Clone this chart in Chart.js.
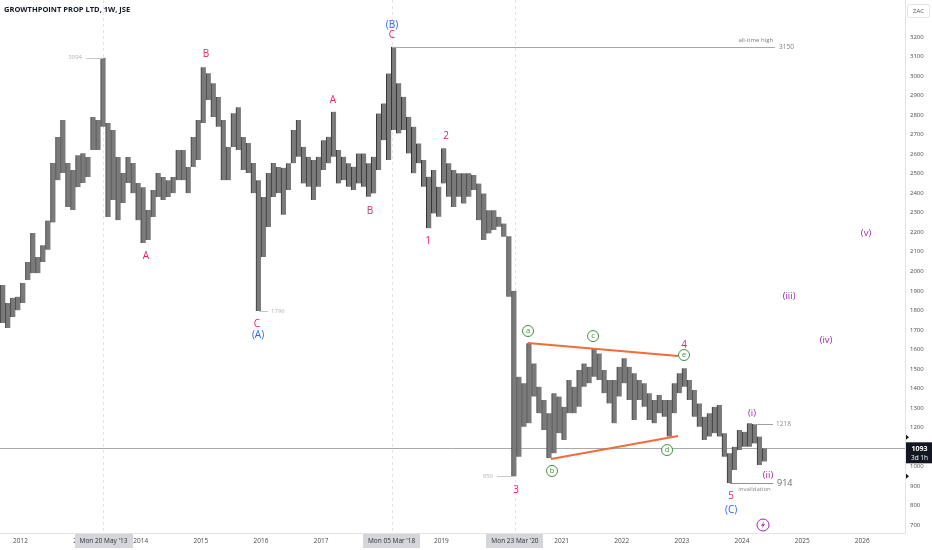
<!DOCTYPE html>
<html>
<head>
<meta charset="utf-8">
<script src="https://cdn.jsdelivr.net/npm/chart.js@4.4.1/dist/chart.umd.min.js"></script>
<style>
  html, body { margin: 0; padding: 0; background: #fff; }
  #wrap { width: 932px; height: 550px; position: relative; }
</style>
</head>
<body>
<div id="wrap"><canvas id="chart"></canvas></div>
<script>
// monthly ranges
const months = [
  '2011-09','2011-10','2011-11','2011-12',
  '2012-01','2012-02','2012-03','2012-04','2012-05','2012-06','2012-07','2012-08','2012-09','2012-10','2012-11','2012-12',
  '2013-01','2013-02','2013-03','2013-04','2013-05','2013-06','2013-07','2013-08','2013-09','2013-10','2013-11','2013-12',
  '2014-01','2014-02','2014-03','2014-04','2014-05','2014-06','2014-07','2014-08','2014-09','2014-10','2014-11','2014-12',
  '2015-01','2015-02','2015-03','2015-04','2015-05','2015-06','2015-07','2015-08','2015-09','2015-10','2015-11','2015-12',
  '2016-01','2016-02','2016-03','2016-04','2016-05','2016-06','2016-07','2016-08','2016-09','2016-10','2016-11','2016-12',
  '2017-01','2017-02','2017-03','2017-04','2017-05','2017-06','2017-07','2017-08','2017-09','2017-10','2017-11','2017-12',
  '2018-01','2018-02','2018-03','2018-04','2018-05','2018-06','2018-07','2018-08','2018-09','2018-10','2018-11','2018-12',
  '2019-01','2019-02','2019-03','2019-04','2019-05','2019-06','2019-07','2019-08','2019-09','2019-10','2019-11','2019-12',
  '2020-01','2020-02','2020-03','2020-04','2020-05','2020-06','2020-07','2020-08','2020-09','2020-10','2020-11','2020-12',
  '2021-01','2021-02','2021-03','2021-04','2021-05','2021-06','2021-07','2021-08','2021-09','2021-10','2021-11','2021-12',
  '2022-01','2022-02','2022-03','2022-04','2022-05','2022-06','2022-07','2022-08','2022-09','2022-10','2022-11','2022-12',
  '2023-01','2023-02','2023-03','2023-04','2023-05','2023-06','2023-07','2023-08','2023-09','2023-10','2023-11','2023-12',
  '2024-01','2024-02','2024-03','2024-04','2024-05'
];

const lows = [
  1735, 1710, 1766, 1800,
  1838, 1955, 1990, 1990, 2048, 2110, 2250, 2467, 2503, 2330, 2314, 2431,
  2452, 2483, 2621, 2621, 2740, 2278, 2365, 2262, 2350, 2452, 2400, 2262,
  2145, 2160, 2278, 2380, 2365, 2380, 2400, 2467, 2467, 2400, 2534, 2570,
  2760, 2877, 2790, 2740, 2467, 2467, 2637, 2621, 2519, 2503, 2400, 1796,
  2073, 2227, 2380, 2400, 2290, 2416, 2553, 2587, 2450, 2433, 2365, 2433,
  2519, 2553, 2587, 2450, 2467, 2433, 2416, 2450, 2433, 2382, 2399, 2519,
  2672, 2570, 2724, 2706, 2724, 2604, 2502, 2553, 2433, 2220, 2296, 2279,
  2450, 2382, 2330, 2382, 2347, 2382, 2416, 2262, 2160, 2194, 2211, 2228,
  2177, 1870,  950, 1050, 1204, 1221, 1358, 1272, 1187, 1042, 1067, 1170,
  1135, 1272, 1272, 1306, 1409, 1426, 1460, 1443, 1375, 1323, 1221, 1358,
  1426, 1340, 1238, 1340, 1306, 1238, 1221, 1272, 1255, 1153, 1272, 1375,
  1409, 1340, 1255, 1204, 1136, 1153, 1170, 1153, 1050,  914,  982, 1084,
  1101, 1101, 1118, 1008, 1025
];

const highs = [
  1930, 1838, 1864, 1870,
  1940, 2048, 2196, 2073, 2134, 2260, 2555, 2688, 2775, 2555, 2519, 2595,
  2605, 2585, 2790, 2775, 3094, 2760, 2724, 2585, 2503, 2585, 2555, 2452,
  2431, 2314, 2416, 2503, 2483, 2467, 2483, 2621, 2621, 2534, 2688, 2775,
  3046, 3015, 2964, 2893, 2775, 2637, 2810, 2841, 2688, 2657, 2555, 2467,
  2380, 2503, 2555, 2534, 2530, 2553, 2724, 2775, 2638, 2587, 2570, 2587,
  2672, 2689, 2818, 2621, 2587, 2553, 2536, 2604, 2604, 2553, 2587, 2809,
  2860, 3014, 3150, 2963, 2894, 2792, 2741, 2655, 2570, 2485, 2519, 2433,
  2630, 2553, 2519, 2502, 2502, 2502, 2493, 2450, 2399, 2313, 2313, 2279,
  2245, 2180, 1900, 1460, 1426, 1631, 1528, 1409, 1340, 1272, 1375, 1358,
  1306, 1443, 1409, 1494, 1528, 1511, 1605, 1579, 1494, 1443, 1443, 1511,
  1554, 1511, 1477, 1443, 1426, 1375, 1340, 1366, 1340, 1340, 1426, 1477,
  1503, 1443, 1392, 1323, 1255, 1272, 1306, 1315, 1170, 1067, 1101, 1187,
  1178, 1221, 1218, 1153, 1093
];

const yearTicks = [2012, 2013, 2014, 2015, 2016, 2017, 2018, 2019, 2020, 2021, 2022, 2023, 2024, 2025, 2026];
const priceTicks = [700, 800, 900, 1000, 1100, 1200, 1300, 1400, 1500, 1600, 1700, 1800, 1900, 2000,
  2100, 2200, 2300, 2400, 2500, 2600, 2700, 2800, 2900, 3000, 3100, 3200];

const lastPrice = 1093;
const alertLevels = [1150, 950];

// highlighted dates on the time axis
const markerDates = ['2013-05-20', '2018-03-05', '2020-03-23'];
const markerLabels = ["Mon 20 May '13", "Mon 05 Mar '18", "Mon 23 Mar '20"];

// wave labels: text, time (years), price, colour key
const waveLabels = [
  ['A', 2014.088, 2078, 'red'], ['B', 2015.086, 3113, 'red'], ['C', 2015.934, 1730, 'red'],
  ['(A)', 2015.951, 1673, 'blue'], ['A', 2017.198, 2877, 'red'], ['B', 2017.813, 2309, 'red'],
  ['(B)', 2018.179, 3261, 'blue'], ['C', 2018.179, 3210, 'red'],
  ['1', 2018.778, 2156, 'red'], ['2', 2019.077, 2693, 'red'], ['3', 2020.241, 879, 'red'],
  ['4', 2023.035, 1622, 'red'], ['5', 2023.817, 849, 'red'], ['(C)', 2023.817, 777, 'blue'],
  ['(i)', 2024.166, 1274, 'purple'], ['(ii)', 2024.432, 956, 'purple'], ['(iii)', 2024.782, 1873, 'purple'],
  ['(iv)', 2025.397, 1648, 'purple'], ['(v)', 2026.062, 2196, 'purple']
];
const circleLabels = [
  ['a', 2020.441, 1694], ['b', 2020.840, 977], ['c', 2021.522, 1668], ['d', 2022.753, 1084], ['e', 2023.035, 1571]
];
// price notes: text, time, price, align, size, colour
const priceNotes = [
  ['3094', 2013.024, 3094, 'right', 6, '#b4b4b4'],
  ['1796', 2016.167, 1796, 'left', 6, '#b4b4b4'],
  ['all-time high', 2024.516, 3182, 'right', 6, '#7b7b7b'],
  ['3150', 2024.615, 3150, 'left', 6.5, '#7b7b7b'],
  ['950', 2019.859, 950, 'right', 6, '#b4b4b4'],
  ['1218', 2024.565, 1218, 'left', 6.5, '#8a8a8a'],
  ['914', 2024.582, 914, 'left', 9, '#6a6a6a'],
  ['invalidation', 2024.208, 881, 'center', 6, '#8a8a8a']
];
// guide lines: t1, p1, t2, p2, colour, width
const guideLines = [
  [2013.090, 3094, 2013.373, 3094, '#c8c8c8', 1],
  [2015.967, 1796, 2016.117, 1796, '#c8c8c8', 1],
  [2018.179, 3150, 2024.549, 3150, '#a8a8a8', 1],
  [2019.925, 950, 2020.225, 950, '#c8c8c8', 1],
  [2024.183, 1218, 2024.516, 1218, '#a0a0a0', 1],
  [2023.800, 914, 2024.516, 914, '#909090', 1],
  [2020.436, 1632, 2022.936, 1567, '#f26b3a', 2],
  [2020.823, 1038, 2022.936, 1156, '#f26b3a', 2]
];
const boltAt = [2024.349, 700];

const colours = { red: '#e91e63', blue: '#2962ff', purple: '#9c27b0', green: '#43913f' };
const FONT = '"Open Sans", "Noto Sans", sans-serif';

function monthPos(m) {
  const [y, mo] = m.split('-').map(Number);
  return y + (mo - 0.5) / 12;
}
function datePos(d) {
  const [y, mo, day] = d.split('-').map(Number);
  const start = Date.UTC(y, 0, 1), end = Date.UTC(y + 1, 0, 1);
  return y + (Date.UTC(y, mo - 1, day) - start) / (end - start);
}

const overlay = {
  id: 'overlay',
  beforeDatasetsDraw(chart) {
    const ctx = chart.ctx, xs = chart.scales.x, ys = chart.scales.y, a = chart.chartArea;
    ctx.save();
    ctx.strokeStyle = '#e4e4e4';
    ctx.lineWidth = 1;
    ctx.setLineDash([3, 3]);
    markerDates.forEach(d => {
      const x = Math.round(xs.getPixelForValue(datePos(d))) + 0.5;
      ctx.beginPath(); ctx.moveTo(x, a.top); ctx.lineTo(x, a.bottom); ctx.stroke();
    });
    ctx.setLineDash([]);
    const py = Math.round(ys.getPixelForValue(lastPrice)) + 0.5;
    ctx.strokeStyle = '#a9a9a9';
    ctx.beginPath(); ctx.moveTo(a.left, py); ctx.lineTo(a.right, py); ctx.stroke();
    ctx.restore();
  },
  afterDatasetsDraw(chart) {
    const ctx = chart.ctx, xs = chart.scales.x, ys = chart.scales.y;
    const X = t => xs.getPixelForValue(t), Y = p => ys.getPixelForValue(p);
    ctx.save();
    guideLines.forEach(([t1, p1, t2, p2, c, w]) => {
      ctx.strokeStyle = c; ctx.lineWidth = w;
      const off = w === 1 ? 0.5 : 0;
      ctx.beginPath();
      ctx.moveTo(X(t1), Math.round(Y(p1)) + off);
      ctx.lineTo(X(t2), Math.round(Y(p2)) + off);
      ctx.stroke();
    });
    ctx.textBaseline = 'middle';
    priceNotes.forEach(([txt, t, p, al, sz, c]) => {
      ctx.font = sz + 'px ' + FONT;
      ctx.fillStyle = c; ctx.textAlign = al;
      ctx.fillText(txt, X(t), Y(p));
    });
    ctx.textAlign = 'center';
    waveLabels.forEach(([txt, t, p, k]) => {
      ctx.font = (k === 'purple' ? 9.5 : 10) + 'px ' + FONT;
      ctx.fillStyle = colours[k];
      ctx.fillText(txt, X(t), Y(p));
    });
    circleLabels.forEach(([txt, t, p]) => {
      const x = X(t), y = Y(p);
      ctx.strokeStyle = colours.green; ctx.lineWidth = 1;
      ctx.fillStyle = '#fff';
      ctx.beginPath(); ctx.arc(x, y, 5.5, 0, Math.PI * 2); ctx.fill(); ctx.stroke();
      ctx.fillStyle = colours.green;
      ctx.font = '7.5px ' + FONT;
      ctx.fillText(txt, x, y - 0.5);
    });
    // lightning icon
    const bx = X(boltAt[0]), by = Y(boltAt[1]);
    ctx.strokeStyle = colours.purple; ctx.lineWidth = 1;
    ctx.beginPath(); ctx.arc(bx, by, 6, 0, Math.PI * 2); ctx.stroke();
    ctx.fillStyle = colours.purple;
    ctx.beginPath();
    ctx.moveTo(bx + 1.5, by - 4); ctx.lineTo(bx - 2, by + 0.8); ctx.lineTo(bx, by + 0.8);
    ctx.lineTo(bx - 1.5, by + 4); ctx.lineTo(bx + 2, by - 0.8); ctx.lineTo(bx, by - 0.8);
    ctx.closePath(); ctx.fill();
    ctx.restore();
  },
  afterDraw(chart) {
    const ctx = chart.ctx, xs = chart.scales.x, ys = chart.scales.y, a = chart.chartArea;
    ctx.save();
    ctx.textBaseline = 'middle';
    ctx.textAlign = 'center';
    // date boxes on the time axis
    ctx.font = '6.5px ' + FONT;
    markerDates.forEach((d, i) => {
      const x = xs.getPixelForValue(datePos(d));
      const w = ctx.measureText(markerLabels[i]).width + 10;
      ctx.fillStyle = '#d5d6da';
      ctx.fillRect(Math.round(x - w / 2), a.bottom + 1, Math.round(w), 14);
      ctx.fillStyle = '#2a2e39';
      ctx.fillText(markerLabels[i], x, a.bottom + 8.5);
    });
    // alert arrows on the price axis
    ctx.fillStyle = '#131722';
    alertLevels.forEach(p => {
      const y = ys.getPixelForValue(p);
      ctx.beginPath(); ctx.moveTo(a.right + 1, y - 2.5); ctx.lineTo(a.right + 4, y); ctx.lineTo(a.right + 1, y + 2.5);
      ctx.closePath(); ctx.fill();
    });
    // last price box
    const py = ys.getPixelForValue(lastPrice);
    ctx.fillStyle = '#131722';
    ctx.fillRect(a.right + 1, py - 6, chart.width - a.right - 1, 21);
    ctx.fillStyle = '#fff';
    ctx.font = 'bold 7px ' + FONT;
    ctx.fillText(String(lastPrice), (a.right + chart.width) / 2 + 1, py + 0.5);
    ctx.font = '6.5px ' + FONT;
    ctx.fillText('3d 1h', (a.right + chart.width) / 2 + 1, py + 9.5);
    // currency box
    ctx.fillStyle = '#fff';
    ctx.strokeStyle = '#e0e3eb';
    ctx.beginPath(); ctx.roundRect(a.right + 2.5, 4.5, 22, 13, 2); ctx.fill(); ctx.stroke();
    ctx.fillStyle = '#555';
    ctx.font = '6px ' + FONT;
    ctx.fillText('ZAC', a.right + 13.5, 11.5);
    // title
    ctx.textAlign = 'left';
    ctx.fillStyle = '#131722';
    ctx.font = 'bold 7.5px ' + FONT;
    ctx.fillText('GROWTHPOINT PROP LTD, 1W, JSE', 4, 9.5);
    ctx.restore();
  }
};

new Chart(document.getElementById('chart'), {
  type: 'bar',
  data: {
    datasets: [{
      data: months.map((m, i) => ({ x: monthPos(m), y: [lows[i], highs[i]] })),
      backgroundColor: '#7a7a7a',
      borderColor: '#333333',
      borderWidth: { left: 1, right: 0, top: 0, bottom: 0 },
      borderSkipped: false,
      barPercentage: 1,
      categoryPercentage: 1
    }]
  },
  options: {
    responsive: true,
    maintainAspectRatio: false,
    animation: false,
    events: [],
    layout: { padding: 0 },
    plugins: { legend: { display: false }, tooltip: { enabled: false } },
    scales: {
      x: {
        type: 'linear',
        offset: false,
        min: 2011.66,
        max: 2026.71,
        grid: { display: false, drawTicks: false },
        border: { color: '#e0e3eb' },
        afterBuildTicks: s => { s.ticks = yearTicks.map(v => ({ value: v })); },
        afterFit: s => { s.height = 17; s.paddingLeft = 0; s.paddingRight = 0; },
        ticks: {
          autoSkip: false, maxRotation: 0, padding: 4,
          color: '#4a4a4a', font: { family: FONT, size: 6.5 },
          callback: v => String(v)
        }
      },
      y: {
        position: 'right',
        min: 659,
        max: 3390,
        grid: { display: false, drawTicks: false },
        border: { color: '#e0e3eb' },
        afterBuildTicks: s => { s.ticks = priceTicks.map(v => ({ value: v })); },
        afterFit: s => { s.width = 27; s.paddingTop = 0; s.paddingBottom = 0; },
        ticks: {
          autoSkip: false, padding: 5,
          color: '#4a4a4a', font: { family: FONT, size: 6 },
          callback: v => String(v)
        }
      }
    }
  },
  plugins: [overlay]
});
</script>
</body>
</html>
